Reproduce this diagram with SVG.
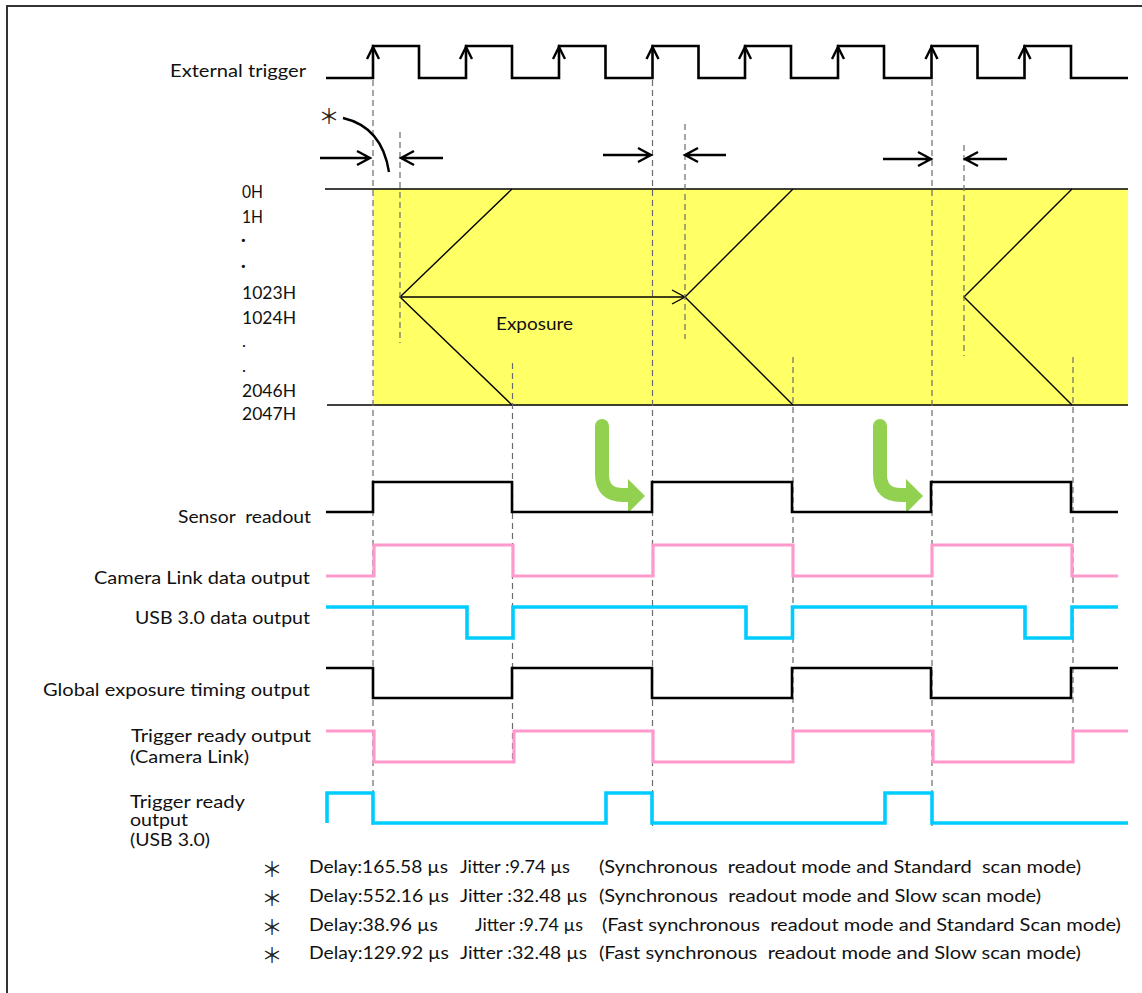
<svg xmlns="http://www.w3.org/2000/svg" width="1142" height="993" viewBox="0 0 1142 993">
<defs>
<style>
text{font-family:Lato,"Liberation Sans","Noto Sans CJK JP",sans-serif;fill:#111;white-space:pre}
.lbl{font-size:18px}
.row{font-size:17px}
.note{font-size:16.5px}
.ast{font-family:"Noto Sans CJK JP",sans-serif;font-size:21px;fill:#222}
.dash{stroke:#6b6b6b;stroke-width:1.2;stroke-dasharray:6 4;fill:none}
.blk{stroke:#000;stroke-width:2.6;fill:none;stroke-linejoin:miter}
.pink{stroke:#FF99CC;stroke-width:3.2;fill:none}
.cyan{stroke:#00CCFF;stroke-width:3.6;fill:none}
.arw{stroke:#000;stroke-width:2.4;fill:none;stroke-linecap:butt;stroke-linejoin:miter}
.green{stroke:#92D050;stroke-width:14;fill:none;stroke-linecap:round}
</style>
</defs>
<rect x="0" y="0" width="1142" height="993" fill="#fff"/>
<path d="M7,993 V6 H1142" fill="none" stroke="#333" stroke-width="2"/>

<g id="sensor-area">
<rect x="373" y="189" width="755" height="216" fill="#FFFF66"/>
<line x1="325" y1="189" x2="1128" y2="189" stroke="#000" stroke-width="1.6"/>
<line x1="327" y1="405" x2="1128" y2="405" stroke="#000" stroke-width="1.6"/>
<path d="M512,189 L400,297 L512,405 M793,189 L685,297 L793,405 M1072,189 L964,297 L1072,405" stroke="#000" stroke-width="1.4" fill="none"/>
<line x1="400" y1="297" x2="684" y2="297" stroke="#000" stroke-width="1.4"/>
<path d="M672,290 L685,297 L672,304" stroke="#000" stroke-width="1.4" fill="none"/>
<text x="496" y="330" class="lbl" textLength="77" lengthAdjust="spacingAndGlyphs">Exposure</text>
</g>

<g id="row-labels">
<text x="242" y="198" class="row" textLength="21" lengthAdjust="spacingAndGlyphs">0H</text>
<text x="242" y="223" class="row" textLength="21" lengthAdjust="spacingAndGlyphs">1H</text>
<text x="241" y="246" class="row" font-weight="bold">·</text>
<text x="241" y="272" class="row" font-weight="bold">·</text>
<text x="242" y="299" class="row" textLength="54" lengthAdjust="spacingAndGlyphs">1023H</text>
<text x="242" y="324" class="row" textLength="54" lengthAdjust="spacingAndGlyphs">1024H</text>
<text x="242" y="347" class="row" fill="#555">.</text>
<text x="242" y="372" class="row" fill="#555">.</text>
<text x="242" y="397" class="row" textLength="54" lengthAdjust="spacingAndGlyphs">2046H</text>
<text x="242" y="420" class="row" textLength="54" lengthAdjust="spacingAndGlyphs">2047H</text>
</g>

<g id="connectors">
<line class="dash" x1="373" y1="80" x2="373" y2="825"/>
<line class="dash" x1="400" y1="132" x2="400" y2="343"/>
<line class="dash" x1="512.5" y1="363" x2="512.5" y2="762"/>
<line class="dash" x1="652.5" y1="80" x2="652.5" y2="828"/>
<line class="dash" x1="685" y1="124" x2="685" y2="339"/>
<line class="dash" x1="793" y1="357" x2="793" y2="762"/>
<line class="dash" x1="932" y1="80" x2="932" y2="828"/>
<line class="dash" x1="964" y1="145" x2="964" y2="356"/>
<line class="dash" x1="1073" y1="357" x2="1073" y2="762"/>
<path class="arw" d="M320,158 H369 M357,151 L370,158 L357,165"/>
<path class="arw" d="M443,158 H402 M414,151 L401,158 L414,165"/>
<path class="arw" d="M603,155 H650 M638,148 L651,155 L638,162"/>
<path class="arw" d="M726,155 H686 M698,148 L685,155 L698,162"/>
<path class="arw" d="M883,159 H930 M918,152 L931,159 L918,166"/>
<path class="arw" d="M1007,159 H966 M978,152 L965,159 L978,166"/>
<path d="M343,118 Q382,127 389,172" stroke="#000" stroke-width="2.4" fill="none"/>
<path class="green" d="M602,426 V474 Q602,495 623,495 H631"/>
<polygon points="628,479 645,496 628,513" fill="#92D050"/>
<path class="green" d="M880,426 V474 Q880,495 901,495 H909"/>
<polygon points="906,479 923,496 906,513" fill="#92D050"/>
</g>

<g id="external-trigger">
<text x="170" y="77" class="lbl" textLength="136" lengthAdjust="spacingAndGlyphs">External trigger</text>
<path class="blk" d="M326,78 H373 V46 H419 V78 H466 V46 H512 V78 H559 V46 H605.5 V78 H652.5 V46 H698.5 V78 H745 V46 H791 V78 H838 V46 H884 V78 H931.5 V46 H977.5 V78 H1024.5 V46 H1071 V78 H1128"/>
<path class="arw" d="M367,59 L373,47 L379,59 M460,59 L466,47 L472,59 M553,59 L559,47 L565,59 M646.5,59 L652.5,47 L658.5,59 M739,59 L745,47 L751,59 M832,59 L838,47 L844,59 M925.5,59 L931.5,47 L937.5,59 M1018.5,59 L1024.5,47 L1030.5,59"/>
<text x="318.5" y="124" class="ast">＊</text>
</g>

<g id="sensor-readout">
<text x="178" y="523" class="lbl" textLength="133" lengthAdjust="spacingAndGlyphs">Sensor  readout</text>
<path class="blk" d="M326,512 H373 V482 H512 V512 H652 V482 H792 V512 H931 V482 H1071 V512 H1118"/>
</g>

<g id="camera-link-data">
<text x="94" y="584" class="lbl" textLength="216" lengthAdjust="spacingAndGlyphs">Camera Link data output</text>
<path class="pink" d="M326,576 H374 V545 H513 V576 H653 V545 H793 V576 H932 V545 H1072 V576 H1118"/>
</g>

<g id="usb-data">
<text x="135" y="624" class="lbl" textLength="175" lengthAdjust="spacingAndGlyphs">USB 3.0 data output</text>
<path class="cyan" d="M326,607 H467 V638 H513 V607 H746 V638 H792.5 V607 H1025 V638 H1072 V607 H1118"/>
</g>

<g id="global-exposure">
<text x="43" y="696" class="lbl" textLength="267" lengthAdjust="spacingAndGlyphs">Global exposure timing output</text>
<path class="blk" d="M326,668 H373 V698 H512 V668 H652 V698 H792 V668 H931 V698 H1071 V668 H1118"/>
</g>

<g id="trigger-ready-cl">
<text x="131" y="742" class="lbl" textLength="180" lengthAdjust="spacingAndGlyphs">Trigger ready output</text>
<text x="130" y="763" class="lbl" textLength="119" lengthAdjust="spacingAndGlyphs">(Camera Link)</text>
<path class="pink" d="M326,731 H374 V762 H514 V731 H653 V762 H793 V731 H933 V762 H1073 V731 H1128"/>
</g>

<g id="trigger-ready-usb">
<text x="130" y="808" class="lbl" font-size="16" textLength="115" lengthAdjust="spacingAndGlyphs">Trigger ready</text>
<text x="130" y="826" class="lbl" font-size="16" textLength="58" lengthAdjust="spacingAndGlyphs">output</text>
<text x="130" y="846" class="lbl" font-size="16" textLength="80" lengthAdjust="spacingAndGlyphs">(USB 3.0)</text>
<path class="cyan" d="M327,823 V793 H373 V823 H606 V793 H652 V823 H885 V793 H932 V823 H1128"/>
</g>

<g id="notes">
<text x="261.5" y="877" class="ast">＊</text>
<text x="309" y="873" class="note" textLength="139" lengthAdjust="spacingAndGlyphs">Delay:165.58 µs</text>
<text x="460" y="873" class="note" textLength="110" lengthAdjust="spacingAndGlyphs">Jitter :9.74 µs</text>
<text x="599" y="873" class="note" textLength="482" lengthAdjust="spacingAndGlyphs">(Synchronous  readout mode and Standard  scan mode)</text>

<text x="261.5" y="906" class="ast">＊</text>
<text x="309" y="902" class="note" textLength="140" lengthAdjust="spacingAndGlyphs">Delay:552.16 µs</text>
<text x="460" y="902" class="note" textLength="127" lengthAdjust="spacingAndGlyphs">Jitter :32.48 µs</text>
<text x="599" y="902" class="note" textLength="442" lengthAdjust="spacingAndGlyphs">(Synchronous  readout mode and Slow scan mode)</text>

<text x="261.5" y="935" class="ast">＊</text>
<text x="309" y="931" class="note" textLength="129" lengthAdjust="spacingAndGlyphs">Delay:38.96 µs</text>
<text x="475" y="931" class="note" textLength="108" lengthAdjust="spacingAndGlyphs">Jitter :9.74 µs</text>
<text x="602" y="931" class="note" textLength="519" lengthAdjust="spacingAndGlyphs">(Fast synchronous  readout mode and Standard Scan mode)</text>

<text x="261.5" y="963" class="ast">＊</text>
<text x="309" y="959" class="note" textLength="140" lengthAdjust="spacingAndGlyphs">Delay:129.92 µs</text>
<text x="460" y="959" class="note" textLength="127" lengthAdjust="spacingAndGlyphs">Jitter :32.48 µs</text>
<text x="599" y="959" class="note" textLength="482" lengthAdjust="spacingAndGlyphs">(Fast synchronous  readout mode and Slow scan mode)</text>
</g>
</svg>
